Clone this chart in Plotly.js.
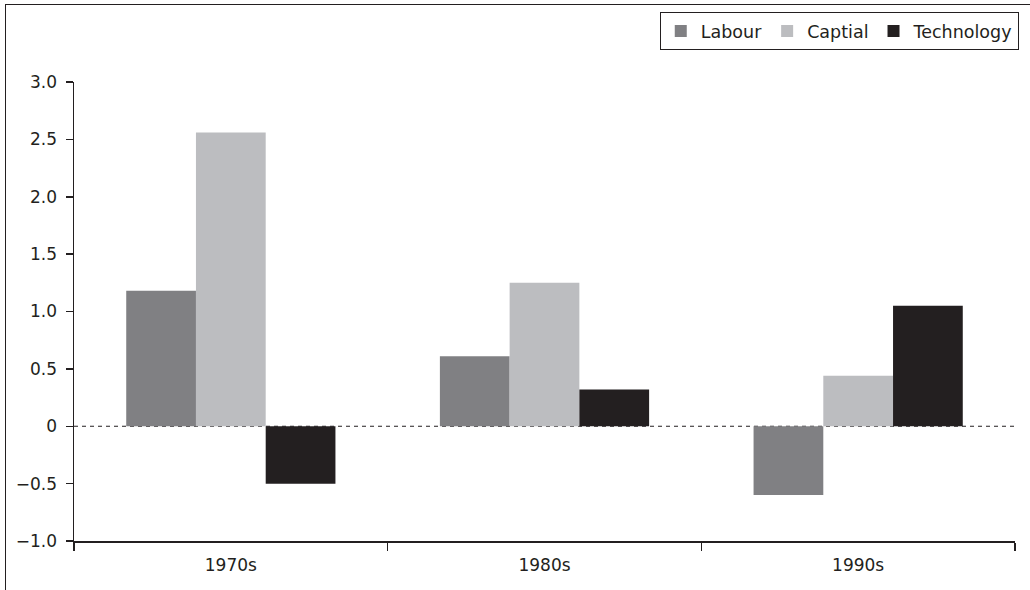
<!DOCTYPE html>
<html>
<head>
<meta charset="utf-8">
<script src="https://cdn.plot.ly/plotly-3.0.1.min.js"></script>
<style>
  html, body { margin: 0; padding: 0; background: #fff; }
  #wrap { position: relative; width: 1030px; height: 590px; }
  #chart { position: absolute; left: 0; top: 0; width: 1030px; height: 590px; }
  #frame { position: absolute; left: 5px; top: 4px; right: 0; bottom: 0;
           border-left: 1.5px solid #231f20; border-top: 1.5px solid #231f20;
           pointer-events: none; }
</style>
</head>
<body>
<div id="wrap">
  <div id="chart"></div>
  <div id="frame"></div>
</div>
<script>
const categories = ["1970s", "1980s", "1990s"];
const labour = [1.18, 0.61, -0.6];
const capital = [2.56, 1.25, 0.44];
const technology = [-0.5, 0.32, 1.05];
const seriesNames = ["Labour", "Captial", "Technology"];
const yTickVals = [-1.0, -0.5, 0, 0.5, 1.0, 1.5, 2.0, 2.5, 3.0];
const yTickText = ["\u22121.0", "\u22120.5", "0", "0.5", "1.0", "1.5", "2.0", "2.5", "3.0"];

const ink = "#231f20";
const font = { family: "DejaVu Sans, Noto Sans, sans-serif", size: 17, color: ink };

const traces = [
  { type: "bar", name: seriesNames[0], x: categories, y: labour, marker: { color: "#808083" } },
  { type: "bar", name: seriesNames[1], x: categories, y: capital, marker: { color: "#bcbdc0" } },
  { type: "bar", name: seriesNames[2], x: categories, y: technology, marker: { color: "#231f20" } }
];

const layout = {
  width: 1030, height: 590,
  margin: { l: 74, r: 11, t: 82, b: 49 },
  paper_bgcolor: "#fff", plot_bgcolor: "#fff",
  font: font,
  barmode: "group",
  bargap: 0.333,
  bargroupgap: 0,
  showlegend: true,
  legend: {
    orientation: "h", x: 1.004, xanchor: "right", y: 1.152, yanchor: "top",
    bordercolor: ink, borderwidth: 1, font: { family: font.family, size: 17.5, color: ink },
    traceorder: "normal", itemwidth: 30
  },
  xaxis: {
    type: "category",
    showline: true, linecolor: ink, linewidth: 1.5,
    ticks: "outside", ticklen: 8, tickcolor: ink, tickwidth: 1.5,
    tickson: "boundaries",
    ticklabelstandoff: 8,
    showgrid: false, zeroline: false,
    tickfont: font, fixedrange: true
  },
  yaxis: {
    range: [-1, 3],
    tickvals: yTickVals, ticktext: yTickText,
    showline: true, linecolor: ink, linewidth: 1.5,
    ticks: "outside", ticklen: 7, tickcolor: ink, tickwidth: 1.5,
    ticklabelstandoff: 5,
    showgrid: false, zeroline: false,
    tickfont: font, fixedrange: true
  },
  shapes: [
    { type: "line", xref: "paper", yref: "y", x0: 0, x1: 1, y0: 0, y1: 0,
      line: { color: ink, width: 1, dash: "4px,4px" }, layer: "below" }
  ]
};

Plotly.newPlot("chart", traces, layout, { displayModeBar: false, staticPlot: true });
</script>
</body>
</html>
